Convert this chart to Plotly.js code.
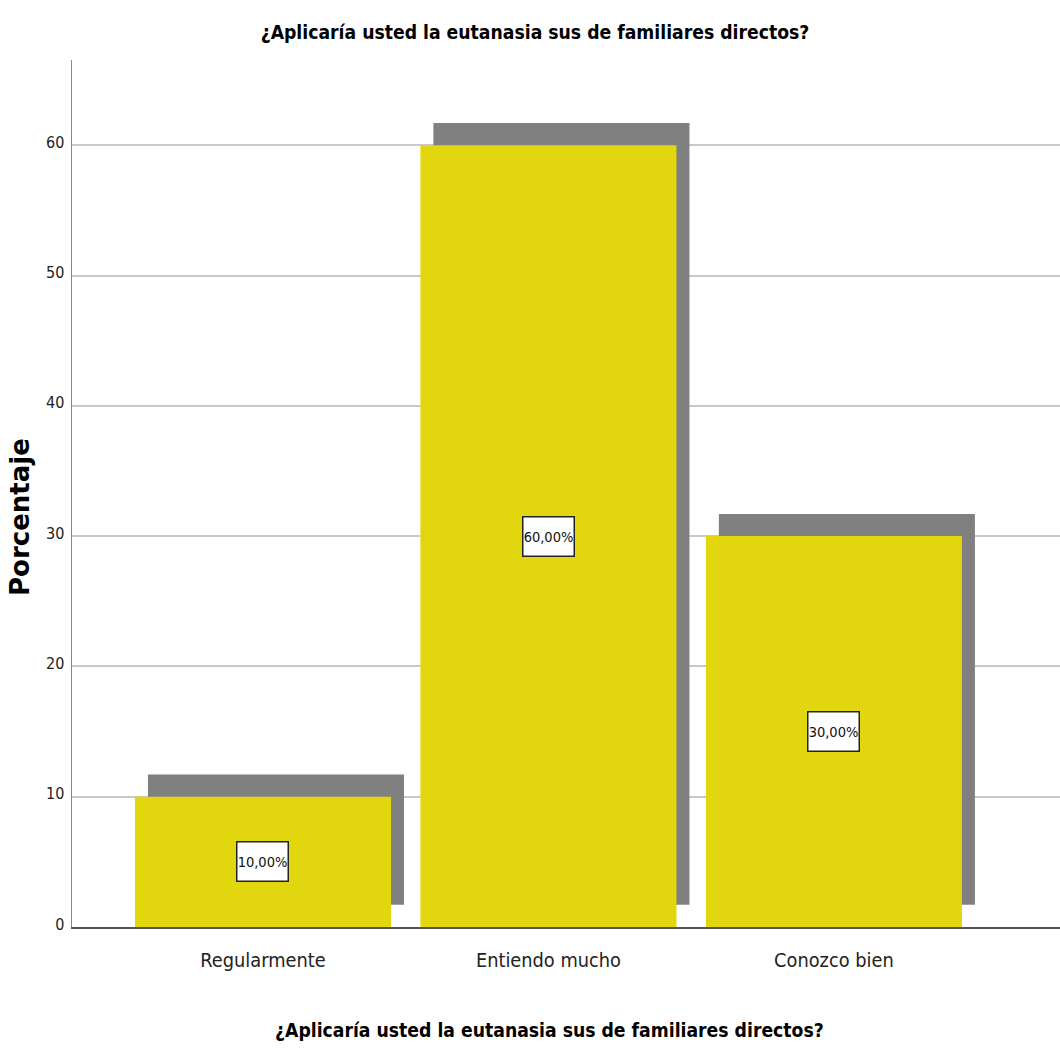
<!DOCTYPE html>
<html>
<head>
<meta charset="utf-8">
<script src="https://cdn.plot.ly/plotly-3.0.1.min.js"></script>
<style>html,body{margin:0;padding:0;background:#fff;}#chart{width:1060px;height:1050px;}</style>
</head>
<body>
<div id="chart"></div>
<script>
const categories = ["Regularmente", "Entiendo mucho", "Conozco bien"];
const percentages = [10, 60, 30];
const yTickValues = [0, 10, 20, 30, 40, 50, 60];
const yTickLabels = ["0", "10", "20", "30", "40", "50", "60"];
const chartTitle = "¿Aplicaría usted la eutanasia sus de familiares directos?";
const xTitle = "¿Aplicaría usted la eutanasia sus de familiares directos?";
const yTitle = "Porcentaje";

const NARROW = "Liberation Sans Narrow, Arial Narrow, DejaVu Sans Condensed, sans-serif";
const BAR_W = 0.897;
const SHADOW_DX = 0.0455;
const SHADOW_DY = 1.7;

const shadow = {
  type: "bar", x: categories, y: percentages,
  base: categories.map(() => SHADOW_DY),
  width: BAR_W, offset: -BAR_W / 2 + SHADOW_DX,
  marker: { color: "#808080", line: { width: 0 } },
  hoverinfo: "skip", showlegend: false
};
const bars = {
  type: "bar", x: categories, y: percentages,
  width: BAR_W, offset: -BAR_W / 2,
  marker: { color: "#E2D60F", line: { width: 0 } },
  showlegend: false
};

const labelAnnotations = categories.map((c, i) => ({
  x: c, y: percentages[i] / 2, xref: "x", yref: "y",
  text: percentages[i].toFixed(2).replace(".", ",") + "%",
  showarrow: false,
  font: { family: NARROW, size: 14.5, color: "#111" },
  bgcolor: "#ffffff", bordercolor: "#222", borderwidth: 1.5, borderpad: 0,
  width: 50, height: 38
}));

const layout = {
  width: 1060, height: 1050,
  margin: { l: 72, r: 0, t: 60, b: 123 },
  paper_bgcolor: "#fff", plot_bgcolor: "#fff",
  barmode: "overlay",
  title: {
    text: chartTitle, xref: "container", yref: "container",
    x: 535 / 1060, y: 1 - 32 / 1050, xanchor: "center", yanchor: "middle",
    font: { family: NARROW, size: 19.2, color: "#000", weight: "bold" }
  },
  xaxis: {
    type: "category", range: [-0.669, 2.792],
    showline: true, linecolor: "#555", linewidth: 1.5,
    showgrid: false, zeroline: false, ticks: "",
    ticklabelstandoff: 15,
    tickfont: { family: NARROW, size: 19.8, color: "#222" },
    fixedrange: true
  },
  yaxis: {
    range: [0, 66.54],
    tickvals: yTickValues, ticktext: yTickLabels,
    showline: true, linecolor: "#888", linewidth: 1.5,
    showgrid: true, gridcolor: "#c8c8c8", gridwidth: 2,
    zeroline: false, ticks: "",
    ticklabelstandoff: 3, ticklabelshift: -3,
    tickfont: { family: NARROW, size: 16, color: "#222" },
    fixedrange: true
  },
  annotations: labelAnnotations.concat([
    {
      text: xTitle, xref: "paper", yref: "paper",
      x: (549 - 72) / 988, y: (927 - 1030) / 867,
      xanchor: "center", yanchor: "middle", showarrow: false,
      font: { family: NARROW, size: 19.2, color: "#000", weight: "bold" }
    },
    {
      text: yTitle, xref: "paper", yref: "paper",
      x: (20 - 72) / 988, y: (927 - 517) / 867,
      xanchor: "center", yanchor: "middle", showarrow: false, textangle: -90,
      font: { family: "DejaVu Sans, sans-serif", size: 26, color: "#000", weight: "bold" }
    }
  ])
};

Plotly.newPlot("chart", [shadow, bars], layout, { displayModeBar: false, staticPlot: true });
</script>
</body>
</html>
